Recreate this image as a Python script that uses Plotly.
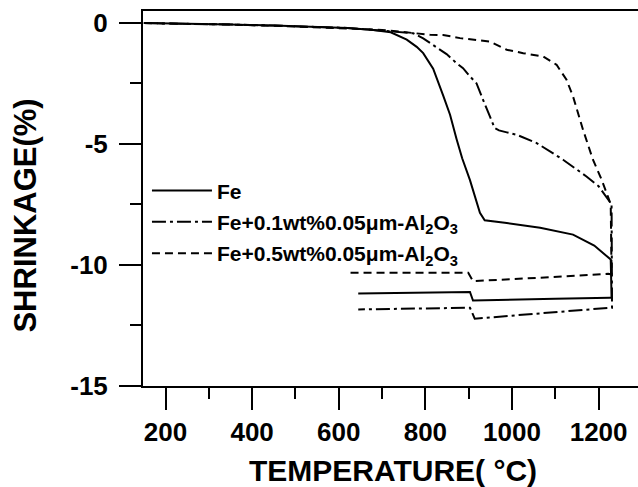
import plotly.graph_objects as go

# ---- data ----
fe_T = [150, 250, 350, 450, 550, 620, 680, 720, 757, 780, 795, 818, 841, 857, 872, 885, 903, 915, 926, 937,
        988, 1065, 1141, 1190, 1218, 1228, 1230,
        1226, 1100, 1000, 910, 903, 800, 645]
fe_S = [-0.02, -0.04, -0.08, -0.12, -0.18, -0.22, -0.30, -0.40, -0.70, -1.00, -1.26, -1.90, -3.00, -3.80, -4.80,
        -5.60, -6.50, -7.20, -7.85, -8.16,
        -8.27, -8.47, -8.75, -9.20, -9.64, -9.78, -11.36,
        -11.36, -11.40, -11.44, -11.47, -11.12, -11.14, -11.18]

al01_T = [150, 250, 350, 450, 550, 620, 680, 740, 772, 795, 811, 834, 849, 872, 887, 903, 918, 933, 941, 949,
          960, 970, 988, 1011, 1057, 1118, 1172, 1200, 1222, 1230, 1231,
          1226, 914, 903, 645]
al01_S = [-0.02, -0.04, -0.08, -0.12, -0.18, -0.22, -0.30, -0.38, -0.44, -0.65, -0.85, -1.12, -1.30, -1.67,
          -1.88, -2.22, -2.50, -3.18, -3.50, -3.87,
          -4.35, -4.45, -4.53, -4.63, -4.97, -5.66, -6.35, -6.75, -7.30, -7.50, -11.77,
          -11.77, -12.22, -11.77, -11.84]

al05_T = [150, 250, 350, 450, 550, 620, 700, 770, 811, 841, 880, 949, 988, 1026, 1072, 1103, 1126, 1141, 1164,
          1187, 1207, 1222, 1228, 1230,
          1222, 1065, 910, 899, 618]
al05_S = [-0.02, -0.04, -0.08, -0.13, -0.18, -0.24, -0.30, -0.43, -0.50, -0.51, -0.64, -0.78, -1.12, -1.26,
          -1.40, -1.74, -2.36, -3.05, -4.42,
          -5.66, -6.48, -7.20, -7.50, -10.40,
          -10.37, -10.53, -10.67, -10.33, -10.33]

names = ["Fe",
         "Fe+0.1wt%0.05μm-Al<sub>2</sub>O<sub>3</sub>",
         "Fe+0.5wt%0.05μm-Al<sub>2</sub>O<sub>3</sub>"]

x_major = [200, 400, 600, 800, 1000, 1200]
x_minor = [300, 500, 700, 900, 1100]
y_major = [0, -5, -10, -15]
y_labels = ["0", "-5", "-10", "-15"]
y_minor = [-2.5, -7.5, -12.5]

FONT = "Liberation Sans, Arial, sans-serif"

fig = go.Figure()
fig.add_trace(go.Scatter(x=fe_T, y=fe_S, mode="lines", name=names[0], legendgroup="a",
                         line=dict(color="black", width=2, dash="solid")))
fig.add_trace(go.Scatter(x=al01_T, y=al01_S, mode="lines", name=names[1], legendgroup="b",
                         line=dict(color="black", width=2, dash="14px,4px,3px,4px")))
fig.add_trace(go.Scatter(x=al05_T, y=al05_S, mode="lines", name=names[2], legendgroup="c",
                         line=dict(color="black", width=2, dash="8px,5px")))

fig.update_layout(
    template="none",
    width=638, height=487,
    margin=dict(l=143, r=0, t=11, b=101, autoexpand=False),
    paper_bgcolor="white", plot_bgcolor="white",
    showlegend=True,
    legend=dict(x=0.008, y=0.575, xanchor="left", yanchor="top",
                font=dict(family=FONT, size=21, color="black", weight="bold"),
                bgcolor="rgba(0,0,0,0)", borderwidth=0, tracegroupgap=1,
                itemwidth=60),
    xaxis=dict(range=[148, 1291], showgrid=False, zeroline=False, automargin=False,
               showline=True, linecolor="black", linewidth=2, mirror=True,
               tickmode="array", tickvals=x_major, ticktext=[str(v) for v in x_major],
               ticks="outside", ticklen=22, tickwidth=2, tickcolor="black",
               tickfont=dict(family=FONT, size=26, color="black", weight="bold"),
               minor=dict(tickmode="array", tickvals=x_minor, ticks="outside",
                          ticklen=11, tickwidth=2, tickcolor="black")),
    yaxis=dict(range=[-15, 0.48], showgrid=False, zeroline=False, automargin=False,
               showline=True, linecolor="black", linewidth=2, mirror=False,
               tickmode="array", tickvals=y_major, ticktext=y_labels,
               ticks="outside", ticklen=22, tickwidth=2, tickcolor="black",
               ticklabelstandoff=6,
               tickfont=dict(family=FONT, size=26, color="black", weight="bold"),
               minor=dict(tickmode="array", tickvals=y_minor, ticks="outside",
                          ticklen=11, tickwidth=2, tickcolor="black")),
    annotations=[
        dict(text="TEMPERATURE( °C)", xref="paper", yref="paper", x=0.505, y=-0.225,
             xanchor="center", yanchor="middle", showarrow=False,
             font=dict(family=FONT, size=30, color="black", weight="bold")),
        dict(text="SHRINKAGE(%)", xref="paper", yref="paper", x=-0.238, y=0.455,
             xanchor="center", yanchor="middle", showarrow=False, textangle=-90,
             font=dict(family=FONT, size=31, color="black", weight="bold")),
    ],
)

fig.write_html("out.html", config={"displayModeBar": False},
               post_script="document.body.style.margin='0';document.body.style.overflow='hidden';")
